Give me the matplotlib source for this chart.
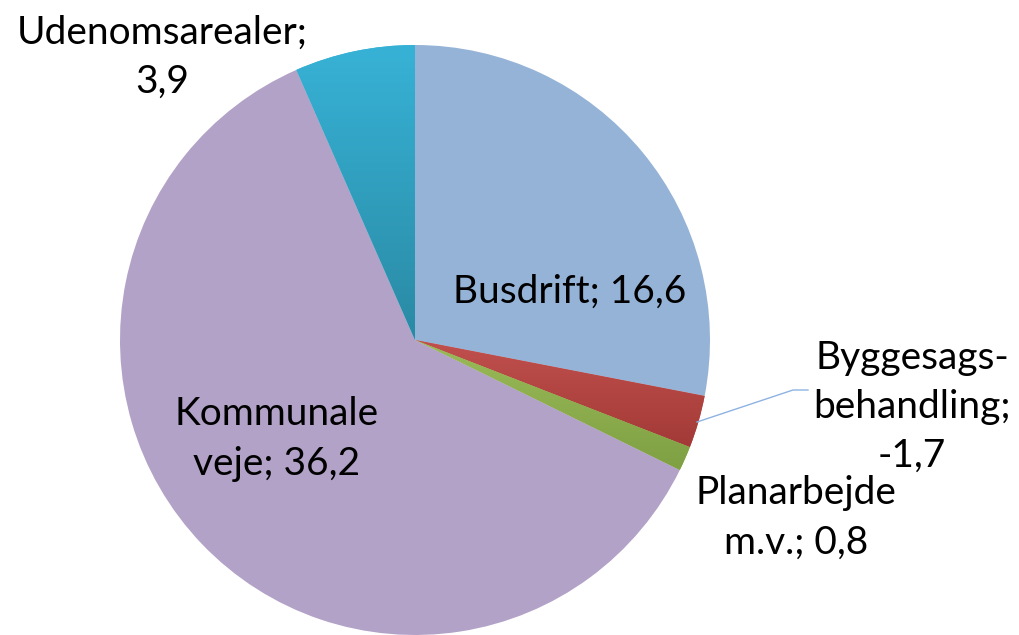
import numpy as np
import matplotlib
matplotlib.use("Agg")
import matplotlib.pyplot as plt

# data (mio. kr.)
categories = ["Busdrift", "Byggesagsbehandling", "Planarbejde m.v.", "Kommunale veje", "Udenomsarealer"]
values = [16.6, -1.7, 0.8, 36.2, 3.9]
labels = ["Busdrift; 16,6", "Byggesags-\nbehandling;\n-1,7", "Planarbejde\nm.v.; 0,8",
          "Kommunale\nveje; 36,2", "Udenomsarealer;\n3,9"]
colors = ["#95B3D7", "#C0504D", "#9BBB59", "#B2A2C7", "#37B2D6"]
dark_colors = ["#95B3D7", "#A33A37", "#7FA043", "#B2A2C7", "#2A8AA4"]

W, H = 1020, 635
fig = plt.figure(figsize=(W / 100, H / 100), dpi=100)
ax = fig.add_axes([0, 0, 1, 1])

cx, cy, r = 415, H - 340, 295

wedges, _ = ax.pie(np.abs(values), colors=colors, startangle=90, counterclock=False,
                   radius=r, center=(cx, cy), frame=True,
                   wedgeprops=dict(linewidth=0))
ax.set_xlim(0, W)
ax.set_ylim(0, H)
ax.axis("off")

# vertical shading on the wedges that have it in the original
for w, c1, c2 in zip(wedges, colors, dark_colors):
    if c1 == c2:
        continue
    x0, y0, x1, y1 = w.get_window_extent().transformed(ax.transData.inverted()).extents
    top = np.array(matplotlib.colors.to_rgb(c1))
    bot = np.array(matplotlib.colors.to_rgb(c2))
    t = np.linspace(0, 1, 100)[:, None]
    grad = (top * (1 - t) + bot * t)[:, None, :]
    im = ax.imshow(grad, extent=(x0, x1, y0, y1), aspect="auto", origin="upper", zorder=w.get_zorder())
    im.set_clip_path(w)

fnt = dict(fontsize=28, family=["Lato", "DejaVu Sans"], ha="center", va="center",
           color="black", linespacing=1.45)

# label positions in pixel coordinates from the top
label_pos = [(570, 292), (912, 407), (796, 518), (277, 439), (162, 57)]
for txt, (lx, ly) in zip(labels, label_pos):
    ax.text(lx, H - ly, txt, **fnt)

# leader line for the small slice
ax.plot([697, 793, 808], [H - 422, H - 390, H - 390], color="#8DB3E2", lw=1)

fig.savefig("out.png", dpi=100)
